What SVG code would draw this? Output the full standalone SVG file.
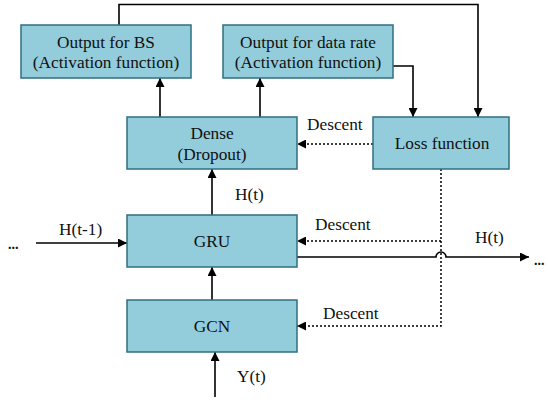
<svg xmlns="http://www.w3.org/2000/svg" width="548" height="404" viewBox="0 0 548 404" font-family="Liberation Serif, DejaVu Serif, serif" font-size="17">
<style>
.box{fill:#93CDDC;stroke:#2F6F80;stroke-width:1.5}
.t{font-family:"Liberation Serif","DejaVu Serif",serif;font-size:17.3px;fill:#111}
.c{text-anchor:middle}
.ln{fill:none;stroke:#000;stroke-width:1.6}
.dl{fill:none;stroke:#000;stroke-width:1.5;stroke-dasharray:2,2}
</style>
<defs>
<marker id="ah2" viewBox="0 0 10 10" refX="10" refY="5" markerWidth="9" markerHeight="9" orient="auto" markerUnits="userSpaceOnUse"><path d="M0,0 L10,5 L0,10 z" fill="#000"/></marker>
</defs>
<g id="connectors">
<path class="ln" d="M119,25 V4.5 H478 V117" marker-end="url(#ah2)"/>
<path class="ln" d="M393,66 H413 V117" marker-end="url(#ah2)"/>
<path class="ln" d="M160,117 V78" marker-end="url(#ah2)"/>
<path class="ln" d="M260,117 V78" marker-end="url(#ah2)"/>
<path class="ln" d="M212,215 V169" marker-end="url(#ah2)"/>
<path class="ln" d="M212,300 V267" marker-end="url(#ah2)"/>
<path class="ln" d="M215,397 V352" marker-end="url(#ah2)"/>
<path class="ln" d="M36,243 H127" marker-end="url(#ah2)"/>
<path class="ln" d="M297,257 H436 A5,5 0 0 1 446,257 H529" marker-end="url(#ah2)"/>
<path class="dl" d="M373,144 H297" marker-end="url(#ah2)"/>
<path class="dl" d="M441,169 V326 H297" marker-end="url(#ah2)"/>
<path class="dl" d="M441,241 H297" marker-end="url(#ah2)"/>
</g>
<g id="bs"><rect class="box" x="21" y="25" width="170" height="53"/><text class="t c" x="106" y="48">Output for BS</text><text class="t c" x="106" y="68">(Activation function)</text></g>
<g id="dr"><rect class="box" x="223" y="25" width="170" height="53"/><text class="t c" x="308" y="48">Output for data rate</text><text class="t c" x="308" y="68">(Activation function)</text></g>
<g id="dense"><rect class="box" x="127" y="117" width="170" height="52"/><text class="t c" x="212" y="139">Dense</text><text class="t c" x="212" y="160">(Dropout)</text></g>
<g id="loss"><rect class="box" x="373" y="117" width="136" height="52"/><text class="t c" x="442" y="149">Loss function</text></g>
<g id="gru"><rect class="box" x="127" y="215" width="170" height="52"/><text class="t c" x="212" y="247">GRU</text></g>
<g id="gcn"><rect class="box" x="127" y="300" width="170" height="52"/><text class="t c" x="212" y="332">GCN</text></g>
<g id="labels">
<text class="t" x="307" y="130">Descent</text>
<text class="t" x="315" y="230">Descent</text>
<text class="t" x="323" y="319">Descent</text>
<text class="t" x="235" y="200">H(t)</text>
<text class="t" x="475" y="243">H(t)</text>
<text class="t" x="59" y="235">H(t-1)</text>
<text class="t" x="237" y="382">Y(t)</text>
<text class="t" x="8" y="249" font-weight="bold" style="font-size:14px">...</text>
<text class="t" x="534" y="265" font-weight="bold" style="font-size:14px">...</text>
</g>
</svg>
